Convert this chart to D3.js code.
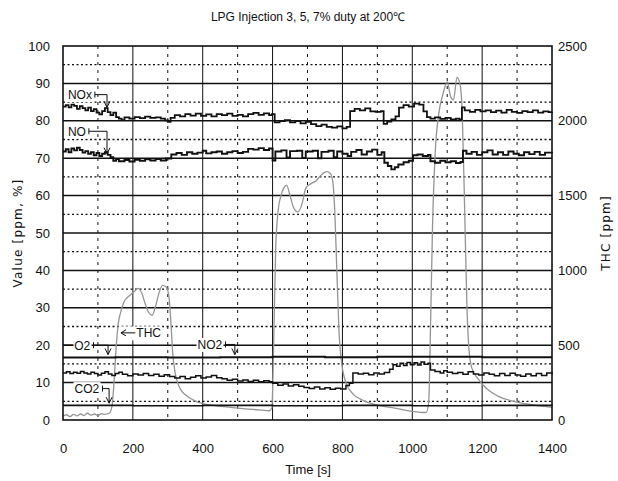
<!DOCTYPE html>
<html>
<head>
<meta charset="utf-8">
<script src="https://cdn.jsdelivr.net/npm/d3@7"></script>
<style>
  html, body { margin: 0; padding: 0; background: #fff; }
  svg { display: block; }
</style>
</head>
<body>
<svg id="chart" width="618" height="481"></svg>
<script>
// ---- data ----------------------------------------------------------------
const title = "LPG Injection 3, 5, 7% duty at 200\u2103";
const xTicks = [0, 200, 400, 600, 800, 1000, 1200, 1400];
const leftTicks = [0, 10, 20, 30, 40, 50, 60, 70, 80, 90, 100];
const rightTicks = [0, 500, 1000, 1500, 2000, 2500];

// NOx [ppm]
const noxTime = [0,8,16,24,32,40,48,56,64,72,80,88,96,104,112,120,128,136,144,152,160,168,176,190,205,220,235,250,265,280,292,300,308,320,335,350,365,380,395,410,425,440,455,470,485,500,515,530,545,560,575,590,598,606,620,635,650,665,680,695,710,725,740,755,770,785,800,812,822,835,850,865,880,895,910,918,928,940,952,962,975,990,1005,1020,1032,1042,1052,1065,1080,1095,1110,1125,1135,1142,1150,1165,1180,1195,1210,1225,1240,1255,1270,1285,1300,1315,1330,1345,1360,1375,1390,1400];
const noxValue = [83.8,84.2,83.6,84.3,84.0,83.2,83.9,83.4,82.8,83.5,82.6,83.1,82.2,81.7,82.6,83.4,82.3,81.5,82.2,81.0,80.6,80.2,80.9,80.6,81.0,80.7,81.1,80.8,80.9,80.6,80.1,79.7,80.8,81.5,81.2,81.8,81.4,81.9,81.3,81.7,81.2,81.8,81.5,81.9,81.3,81.6,81.2,81.8,82.1,81.6,82.0,81.5,81.8,79.6,79.9,80.2,79.6,79.9,79.3,79.7,79.1,78.6,79.0,78.4,78.2,78.5,78.0,78.4,82.6,83.2,82.8,83.3,82.5,82.4,82.6,79.2,79.8,80.4,81.2,83.5,84.2,83.8,84.6,84.3,82.5,81.0,80.6,80.9,80.5,80.8,80.4,80.6,80.3,83.6,82.8,82.4,82.9,82.5,82.8,82.3,82.7,82.2,82.9,82.4,82.1,82.6,82.3,82.8,82.2,82.5,82.3,82.4];

// NO [ppm]
const noTime = [0,8,16,24,32,40,48,56,64,72,80,88,96,104,112,120,128,136,144,152,160,176,190,205,220,235,250,265,280,295,310,325,340,355,370,385,400,410,425,440,455,470,485,500,515,530,545,560,575,590,600,608,625,640,650,670,685,695,715,730,740,760,775,785,800,815,825,840,855,870,885,900,912,920,930,940,950,960,975,990,1002,1015,1030,1045,1052,1065,1080,1095,1110,1125,1138,1145,1155,1170,1185,1200,1215,1230,1245,1260,1275,1290,1305,1320,1335,1350,1365,1380,1400];
const noValue = [71.8,72.4,71.6,72.6,72.1,72.8,72.2,71.5,71.9,71.2,71.6,70.8,71.4,70.6,71.2,71.6,70.9,70.3,69.3,69.8,69.2,69.5,69.1,69.6,69.3,69.7,69.4,69.8,69.4,69.9,71.0,71.4,70.9,71.6,71.2,71.5,72.0,71.3,71.6,71.8,71.2,71.6,71.9,71.4,71.7,72.5,72.3,72.7,72.2,72.6,69.4,71.8,72.1,70.2,71.9,72.0,70.1,71.8,72.0,70.0,71.7,72.0,70.3,71.8,71.2,70.6,71.7,72.2,71.0,71.8,72.3,70.9,71.6,68.8,67.9,67.0,67.6,68.3,68.9,69.3,70.8,71.0,70.6,70.9,69.2,68.8,69.3,68.9,69.2,68.7,69.0,72.0,71.2,71.7,70.9,71.6,72.1,71.0,71.6,70.9,71.8,71.2,70.8,71.6,71.1,71.7,70.9,71.5,71.3];

// O2 [%]
const o2Time = [0,150,300,450,600,750,900,1050,1200,1400];
const o2Value = [16.7,16.8,16.7,16.8,16.9,16.8,16.9,16.9,16.8,16.8];

// NO2 [ppm]
const no2Time = [0,10,20,30,40,50,60,70,80,90,100,110,120,130,140,150,160,170,185,200,215,230,245,260,275,290,305,320,335,350,365,380,395,410,425,440,455,470,485,500,515,530,545,560,575,590,600,615,630,645,660,675,690,705,720,735,750,765,780,795,810,820,830,845,860,875,890,905,920,935,945,955,965,975,985,995,1005,1015,1025,1035,1045,1052,1065,1080,1090,1100,1115,1130,1145,1160,1175,1190,1205,1220,1235,1250,1265,1280,1295,1310,1325,1340,1355,1370,1385,1400];
const no2Value = [12.6,12.9,12.4,12.8,12.5,13.0,12.6,12.3,12.8,12.4,12.0,12.5,12.9,12.3,11.9,12.4,12.8,12.2,11.8,12.3,12.0,12.4,11.9,12.2,11.7,12.1,11.6,11.2,11.6,11.0,11.4,11.8,11.2,11.5,11.9,11.3,11.0,10.6,10.9,10.4,10.7,10.3,10.6,10.2,10.5,10.2,9.8,9.3,9.6,9.1,9.4,9.0,8.7,8.4,8.8,8.3,8.6,8.2,8.5,8.3,9.2,9.8,12.6,12.3,12.5,12.1,12.6,12.3,12.7,13.6,14.8,14.4,15.2,14.6,15.4,14.8,15.3,14.7,15.5,14.9,15.2,13.4,13.0,12.6,13.2,12.8,12.4,12.7,12.2,12.9,12.3,12.0,12.6,12.2,11.8,12.4,11.9,12.5,12.0,11.7,12.3,11.8,12.4,11.9,12.6,12.2];

// CO2 [%]
const co2Time = [0,200,400,600,800,1000,1200,1400];
const co2Value = [3.9,3.8,3.9,3.8,3.9,3.8,3.9,3.8];

// THC [ppm] (right axis)
const thcTime = [0,10,20,30,40,50,60,70,80,90,100,110,120,132,140,146,152,158,165,175,190,205,215,225,235,245,255,265,275,285,295,303,309,314,320,328,338,352,372,400,440,480,520,560,590,598,603,609,616,624,632,640,650,660,672,685,695,710,725,740,755,765,772,778,784,790,798,810,830,860,900,950,1000,1040,1047,1052,1058,1066,1076,1088,1100,1110,1118,1128,1137,1143,1150,1156,1162,1170,1190,1215,1245,1300,1350,1400];
const thcValue = [25,35,22,38,28,40,30,45,32,40,30,42,38,45,90,250,480,640,720,790,830,860,880,850,780,720,700,760,850,900,890,830,650,450,330,250,200,165,135,110,95,85,75,68,62,80,500,1150,1400,1500,1550,1570,1500,1420,1390,1450,1550,1580,1600,1640,1660,1650,1600,1400,1000,600,380,250,175,130,100,80,58,50,120,600,1300,1800,2050,2180,2260,2160,2140,2290,2240,2050,1400,800,480,350,270,205,160,120,100,85];

// annotation text for each curve
const tagText  = ["NOx", "NO", "O2", "CO2", "NO2"];
const tagTime  = [14, 14, 32, 33, 385];
const tagValue = [87.0, 77.2, 20.0, 8.4, 20.2];
const tipTime  = [126, 126, 129, 132, 492];
const tipValue = [83.6, 71.2, 17.5, 4.5, 17.5];

// ---- layout --------------------------------------------------------------
const svg = d3.select("#chart");
const plotL = 63, plotR = 552, plotT = 46, plotB = 420;

const x = d3.scaleLinear().domain([0, 1400]).range([plotL, plotR]);
const yL = d3.scaleLinear().domain([0, 100]).range([plotB, plotT]);
const yR = d3.scaleLinear().domain([0, 2500]).range([plotB, plotT]);

const sans = '"Liberation Sans", Arial, sans-serif';

// title
svg.append("text")
  .attr("x", 308).attr("y", 21)
  .attr("text-anchor", "middle")
  .attr("font-family", sans)
  .attr("font-size", 12)
  .attr("fill", "#111")
  .text(title);

// ---- grid ----------------------------------------------------------------
const grid = svg.append("g");
const minor = d3.range(5, 100, 10);
const major = d3.range(10, 100, 10);

grid.selectAll(".hdot").data(minor).join("line")
  .attr("x1", plotL).attr("x2", plotR)
  .attr("y1", d => yL(d)).attr("y2", d => yL(d))
  .attr("stroke", "#111").attr("stroke-width", 1.3)
  .attr("stroke-dasharray", "2,2.5");

grid.selectAll(".vdash").data(d3.range(100, 1400, 200)).join("line")
  .attr("x1", d => x(d)).attr("x2", d => x(d))
  .attr("y1", plotT).attr("y2", plotB)
  .attr("stroke", "#111").attr("stroke-width", 1)
  .attr("stroke-dasharray", "3,5");

grid.selectAll(".vsolid").data(d3.range(200, 1400, 200)).join("line")
  .attr("x1", d => x(d)).attr("x2", d => x(d))
  .attr("y1", plotT).attr("y2", plotB)
  .attr("stroke", "#111").attr("stroke-width", 1);

grid.selectAll(".hsolid").data(major).join("line")
  .attr("x1", plotL).attr("x2", plotR)
  .attr("y1", d => yL(d)).attr("y2", d => yL(d))
  .attr("stroke", "#111").attr("stroke-width", 1.5);

// ---- series --------------------------------------------------------------
const zip = (ts, vs) => ts.map((t, i) => [t, vs[i]]);

const stepL = d3.line().x(d => x(d[0])).y(d => yL(d[1])).curve(d3.curveStepAfter);
const lineR = d3.line().x(d => x(d[0])).y(d => yR(d[1])).curve(d3.curveMonotoneX);

svg.append("path").datum(zip(thcTime, thcValue))
  .attr("d", lineR).attr("fill", "none")
  .attr("stroke", "#959595").attr("stroke-width", 1.3);

const blackSeries = [
  { data: zip(noxTime, noxValue), w: 1.8 },
  { data: zip(noTime, noValue), w: 1.9 },
  { data: zip(o2Time, o2Value), w: 2.0 },
  { data: zip(no2Time, no2Value), w: 1.5 },
  { data: zip(co2Time, co2Value), w: 1.6 }
];
svg.selectAll(".series").data(blackSeries).join("path")
  .attr("d", d => stepL(d.data)).attr("fill", "none")
  .attr("stroke", "#111").attr("stroke-width", d => d.w)
  .attr("stroke-linejoin", "miter");

// ---- frame ---------------------------------------------------------------
svg.append("rect")
  .attr("x", plotL).attr("y", plotT)
  .attr("width", plotR - plotL).attr("height", plotB - plotT)
  .attr("fill", "none").attr("stroke", "#111").attr("stroke-width", 1.6);

// ---- annotations ---------------------------------------------------------
const tags = svg.append("g").attr("font-family", sans).attr("font-size", 12).attr("fill", "#111");

tagText.forEach((txt, i) => {
  const tx = x(tagTime[i]), ty = yL(tagValue[i]);
  const g = tags.append("g");
  const bg = g.append("rect").attr("fill", "#fff");
  const t = g.append("text").attr("x", tx).attr("y", ty + 4.5).text(txt);
  const bb = t.node().getBBox();
  bg.attr("x", bb.x - 1).attr("y", bb.y).attr("width", bb.width + 2).attr("height", bb.height);
  const ax = x(tipTime[i]);
  const ay = yL(tipValue[i]);
  const sx = bb.x + bb.width + 3;
  g.append("path")
    .attr("d", `M${sx},${ty - 3}V${ty + 3}M${sx},${ty}H${ax}V${ay}`)
    .attr("fill", "none").attr("stroke", "#111").attr("stroke-width", 1);
  g.append("path")
    .attr("d", `M${ax - 3},${ay - 6}L${ax},${ay}L${ax + 3},${ay - 6}`)
    .attr("fill", "none").attr("stroke", "#111").attr("stroke-width", 1);
});

// O2 label sits on the 20 line with a short lead-in from the left edge
{
  const ty = yL(20);
  tags.append("path").attr("d", `M${plotL},${ty}H${x(30)}`)
    .attr("stroke", "#111").attr("stroke-width", 1.5);
}

// THC pointer (arrow to the left)
{
  const tipT = 166, txtT = 210, v = 23.3;
  const ty = yL(v);
  const g = tags.append("g");
  const bg = g.append("rect").attr("fill", "#fff");
  const t = g.append("text").attr("x", x(txtT)).attr("y", ty + 4.5).text("THC");
  const bb = t.node().getBBox();
  bg.attr("x", x(tipT) - 1).attr("y", bb.y).attr("width", bb.x + bb.width - x(tipT) + 2).attr("height", bb.height);
  g.append("path").attr("d", `M${bb.x - 1},${ty}H${x(tipT)}M${x(tipT) + 5},${ty - 3}L${x(tipT)},${ty}L${x(tipT) + 5},${ty + 3}`)
    .attr("fill", "none").attr("stroke", "#111").attr("stroke-width", 1);
}

// ---- axes ----------------------------------------------------------------
const axisFont = g => g.attr("font-family", sans).attr("font-size", 13);
const intFmt = d3.format("d");

svg.append("g").attr("transform", `translate(${plotL},0)`)
  .call(d3.axisLeft(yL).tickValues(leftTicks).tickFormat(intFmt).tickSize(0).tickPadding(13))
  .call(axisFont)
  .call(g => g.select(".domain").remove())
  .call(g => g.selectAll("text").attr("fill", "#111"));

svg.append("g").attr("transform", `translate(${plotR},0)`)
  .call(d3.axisRight(yR).tickValues(rightTicks).tickFormat(intFmt).tickSize(0).tickPadding(6))
  .call(axisFont)
  .call(g => g.select(".domain").remove())
  .call(g => g.selectAll("text").attr("fill", "#111"));

svg.append("g").attr("transform", `translate(0,${plotB})`)
  .call(d3.axisBottom(x).tickValues(xTicks).tickFormat(intFmt).tickSize(0).tickPadding(24))
  .call(axisFont)
  .call(g => g.select(".domain").remove())
  .call(g => g.selectAll("text").attr("fill", "#111"));

// axis titles
svg.append("text")
  .attr("transform", `translate(22,${(plotT + plotB) / 2}) rotate(-90)`)
  .attr("text-anchor", "middle")
  .attr("font-family", "DejaVu Sans, sans-serif").attr("font-size", 12)
  .attr("letter-spacing", 1.2).attr("fill", "#111")
  .text("Value [ppm, %]");

svg.append("text")
  .attr("transform", `translate(610,${(plotT + plotB) / 2}) rotate(-90)`)
  .attr("text-anchor", "middle")
  .attr("font-family", "DejaVu Sans, sans-serif").attr("font-size", 12)
  .attr("letter-spacing", 1.2).attr("fill", "#111")
  .text("THC [ppm]");

svg.append("text")
  .attr("x", 308).attr("y", 474)
  .attr("text-anchor", "middle")
  .attr("font-family", sans).attr("font-size", 13)
  .attr("fill", "#111")
  .text("Time [s]");
</script>
</body>
</html>
